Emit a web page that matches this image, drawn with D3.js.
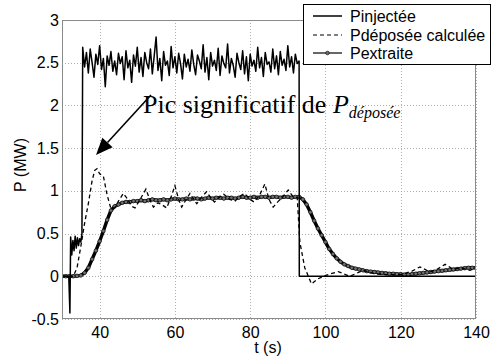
<!DOCTYPE html>
<html><head><meta charset="utf-8">
<script src="https://cdn.jsdelivr.net/npm/d3@7"></script>
<style>body{margin:0;background:#fff}svg{display:block}</style>
</head><body>
<script>
// ---------- data ----------
const xTicks = [40, 60, 80, 100, 120, 140];
const yTicks = [-0.5, 0, 0.5, 1, 1.5, 2, 2.5, 3];
const seriesNames = ["Pinjectée", "Pdéposée calculée", "Pextraite"];

// Pinjectée : start segment [t, P]
const injStart = [[30,0],[31.8,0],[32.1,-0.43],[32.3,0.46],[32.6,0.25],[32.9,0.42],[33.2,0.30],[33.5,0.47],[33.8,0.33],[34.1,0.45],[34.4,0.36],[34.7,0.44],[35.0,0.40],[35.3,0.50]];
// Pinjectée : plateau values, one every 0.5 s from 35.5 s to 93 s
const injPlateauT0 = 35.5, injPlateauDt = 0.5;
const injPlateau = [
2.68,2.45,2.62,2.38,2.66,2.50,2.33,2.60,2.48,2.70,2.42,2.55,2.22,2.58,2.47,2.63,2.40,2.52,2.36,2.61,
2.49,2.57,2.30,2.64,2.44,2.53,2.27,2.59,2.46,2.68,2.39,2.56,2.34,2.62,2.50,2.43,2.66,2.37,2.58,2.80,
2.41,2.55,2.29,2.63,2.47,2.52,2.35,2.69,2.44,2.57,2.38,2.61,2.49,2.31,2.60,2.45,2.54,2.40,2.65,2.48,
2.36,2.59,2.52,2.43,2.71,2.39,2.56,2.30,2.62,2.46,2.53,2.41,2.67,2.35,2.58,2.49,2.44,2.72,2.38,2.55,
2.47,2.33,2.61,2.50,2.42,2.64,2.37,2.57,2.29,2.60,2.46,2.53,2.40,2.68,2.44,2.56,2.34,2.62,2.48,2.51,
2.39,2.66,2.43,2.58,2.36,2.63,2.47,2.54,2.41,2.70,2.45,2.57,2.38,2.60,2.49,2.52];
const injEnd = [[93.05,0],[140,0]];

// Pdéposée calculée [t, P]
const deposee = [[30,0],[33,0],[34,0.1],[35,0.35],[36,0.62],[37,0.85],[38,1.12],[38.7,1.24],[39.3,1.26],[40,1.2],[41,1.17],[42,0.95],[43,0.79],[44,0.8],[45,0.88],[46.3,0.97],[47.5,0.9],[48.5,0.82],[49.4,0.80],[50.5,0.88],[52.3,1.02],[53.3,0.9],[54.3,0.81],[55.5,0.86],[56.5,0.84],[57.8,0.80],[59,0.93],[60,1.06],[61,0.9],[61.8,0.81],[63,0.9],[64,0.97],[65,0.9],[65.8,0.85],[67,0.92],[68.4,0.99],[69.5,0.92],[70.5,0.87],[72,0.93],[73,0.96],[74.5,0.9],[76,0.88],[77,0.93],[78.5,0.97],[80,0.9],[81,0.87],[82.5,0.95],[83.9,1.08],[85,0.9],[86.1,0.81],[87.5,0.88],[88.5,0.92],[90.1,1.01],[91.4,0.93],[92.5,0.92],[93.2,0.4],[94.5,0.1],[96.3,-0.09],[98,-0.03],[100.3,0.015],[103.4,0.055],[106.5,0.0],[110,0.07],[113,0.03],[116,0.02],[120,0.02],[123,0.06],[125.1,0.11],[127.8,0.05],[130,0.09],[131.8,0.14],[134,0.08],[136,0.1],[138.4,0.07],[140,0.1]];

// Pextraite, one value per second from 30 s to 140 s
const extT0 = 30, extDt = 1;
const extraite = [
0,0,0,0,0.005,0.01,0.04,0.1,0.2,0.3,
0.41,0.53,0.66,0.77,0.82,0.84,0.86,0.87,0.87,0.88,
0.88,0.89,0.88,0.89,0.9,0.89,0.89,0.9,0.89,0.9,
0.91,0.9,0.9,0.91,0.9,0.91,0.91,0.9,0.91,0.92,
0.91,0.92,0.92,0.91,0.92,0.92,0.91,0.92,0.93,0.92,
0.92,0.93,0.92,0.93,0.93,0.92,0.93,0.93,0.92,0.93,
0.93,0.92,0.93,0.93,0.9,0.84,0.75,0.65,0.56,0.48,
0.4,0.32,0.26,0.21,0.17,0.14,0.12,0.1,0.09,0.08,
0.07,0.06,0.055,0.05,0.045,0.04,0.035,0.03,0.03,0.025,
0.025,0.02,0.02,0.025,0.03,0.035,0.04,0.045,0.05,0.055,
0.06,0.065,0.07,0.075,0.08,0.085,0.09,0.095,0.1,0.1,0.1];

// ---------- chart ----------
const W = 492, H = 356;
const m = {l: 62, r: 16, t: 20, b: 37};
const x = d3.scaleLinear().domain([30, 140]).range([m.l, W - m.r]);
const y = d3.scaleLinear().domain([-0.5, 3]).range([H - m.b, m.t]);

const svg = d3.select("body").append("svg").attr("width", W).attr("height", H)
  .style("font-family", "Liberation Sans, Arial, sans-serif");

svg.append("clipPath").attr("id", "clip").append("rect")
  .attr("x", m.l).attr("y", m.t).attr("width", W - m.r - m.l).attr("height", H - m.b - m.t);

// grid
const grid = svg.append("g").attr("stroke", "#9a9a9a").attr("stroke-width", 0.8).attr("stroke-dasharray", "1,2");
grid.selectAll("line.gx").data(xTicks).join("line")
  .attr("x1", d => Math.round(x(d)) + 0.5).attr("x2", d => Math.round(x(d)) + 0.5)
  .attr("y1", m.t).attr("y2", H - m.b);
grid.selectAll("line.gy").data(yTicks).join("line")
  .attr("y1", d => Math.round(y(d)) + 0.5).attr("y2", d => Math.round(y(d)) + 0.5)
  .attr("x1", m.l).attr("x2", W - m.r);

// axes (labels)
const xAxis = svg.append("g").attr("transform", `translate(0,${H - m.b})`)
  .call(d3.axisBottom(x).tickValues(xTicks).tickSize(0).tickPadding(8).tickFormat(d3.format("d")));
const yAxis = svg.append("g").attr("transform", `translate(${m.l},0)`)
  .call(d3.axisLeft(y).tickValues(yTicks).tickSize(0).tickPadding(3).tickFormat(d => String(d)));
[xAxis, yAxis].forEach(a => {
  a.select(".domain").remove();
  a.selectAll("text").attr("font-size", 16).attr("font-family", "Liberation Sans, Arial, sans-serif").attr("fill", "#000");
});

// series
const line = d3.line().x(d => x(d[0])).y(d => y(d[1]));
const plot = svg.append("g").attr("clip-path", "url(#clip)");

const extPts = extraite.map((v, i) => [extT0 + i * extDt, v]);
plot.append("path").datum(extPts).attr("d", line)
  .attr("fill", "none").attr("stroke", "#000").attr("stroke-width", 3.4).attr("stroke-linejoin", "round");
plot.append("g").selectAll("circle").data(extPts).join("circle")
  .attr("cx", d => x(d[0])).attr("cy", d => y(d[1])).attr("r", 1.8)
  .attr("fill", "#707070").attr("stroke", "#111").attr("stroke-width", 0.7);

plot.append("path").datum(deposee).attr("d", line)
  .attr("fill", "none").attr("stroke", "#000").attr("stroke-width", 1.3).attr("stroke-dasharray", "4,3");

const injPts = injStart.concat(injPlateau.map((v, i) => [injPlateauT0 + i * injPlateauDt, v]), injEnd);
plot.append("path").datum(injPts).attr("d", line)
  .attr("fill", "none").attr("stroke", "#000").attr("stroke-width", 1.5).attr("stroke-linejoin", "round");

// frame
svg.append("rect").attr("x", m.l + 0.5).attr("y", m.t + 0.5)
  .attr("width", W - m.r - m.l - 1).attr("height", H - m.b - m.t - 1)
  .attr("fill", "none").attr("stroke", "#8a8a8a").attr("stroke-width", 1);

// axis titles
svg.append("text").attr("x", 268).attr("y", 353).attr("text-anchor", "middle")
  .attr("font-size", 16).text("t (s)");
svg.append("text").attr("transform", "translate(26,165) rotate(-90)").attr("text-anchor", "middle")
  .attr("font-size", 16).text("P (MW)");

// legend
const lg = svg.append("g");
lg.append("rect").attr("x", 303.5).attr("y", 4.5).attr("width", 187).attr("height", 60)
  .attr("fill", "#fff").attr("stroke", "#000").attr("stroke-width", 1);
const rows = [16, 35, 53];
seriesNames.forEach((name, i) => {
  const yy = rows[i];
  const l = lg.append("line").attr("x1", 313).attr("x2", 342).attr("y1", yy).attr("y2", yy)
    .attr("stroke", "#000").attr("stroke-width", i === 0 ? 1.5 : 1.2);
  if (i === 1) l.attr("stroke-dasharray", "4,3");
  if (i === 2) lg.append("circle").attr("cx", 327.5).attr("cy", yy).attr("r", 1.8)
    .attr("fill", "#707070").attr("stroke", "#111").attr("stroke-width", 0.7);
  lg.append("text").attr("x", 350).attr("y", yy + 5.5).attr("font-size", 16).text(name);
});

// annotation
const ann = svg.append("text").attr("x", 143).attr("y", 113)
  .attr("font-family", "Liberation Serif, Times New Roman, serif").attr("font-size", 26);
ann.append("tspan").text("Pic significatif de ");
ann.append("tspan").attr("font-style", "italic").text("P");
ann.append("tspan").attr("font-style", "italic").attr("font-size", 16).attr("dy", 5).text("déposée");

const ax0 = 151, ay0 = 95, ax1 = 96, ay1 = 155;
const ang = Math.atan2(ay1 - ay0, ax1 - ax0);
const hl = 17, hw = 7;
const bx = ax1 - hl * Math.cos(ang), by = ay1 - hl * Math.sin(ang);
svg.append("line").attr("x1", ax0).attr("y1", ay0).attr("x2", bx).attr("y2", by)
  .attr("stroke", "#000").attr("stroke-width", 1.6);
svg.append("path").attr("d",
  `M${ax1},${ay1}L${bx + hw * Math.sin(ang)},${by - hw * Math.cos(ang)}L${bx - hw * Math.sin(ang)},${by + hw * Math.cos(ang)}Z`)
  .attr("fill", "#000");
</script>
</body></html>
